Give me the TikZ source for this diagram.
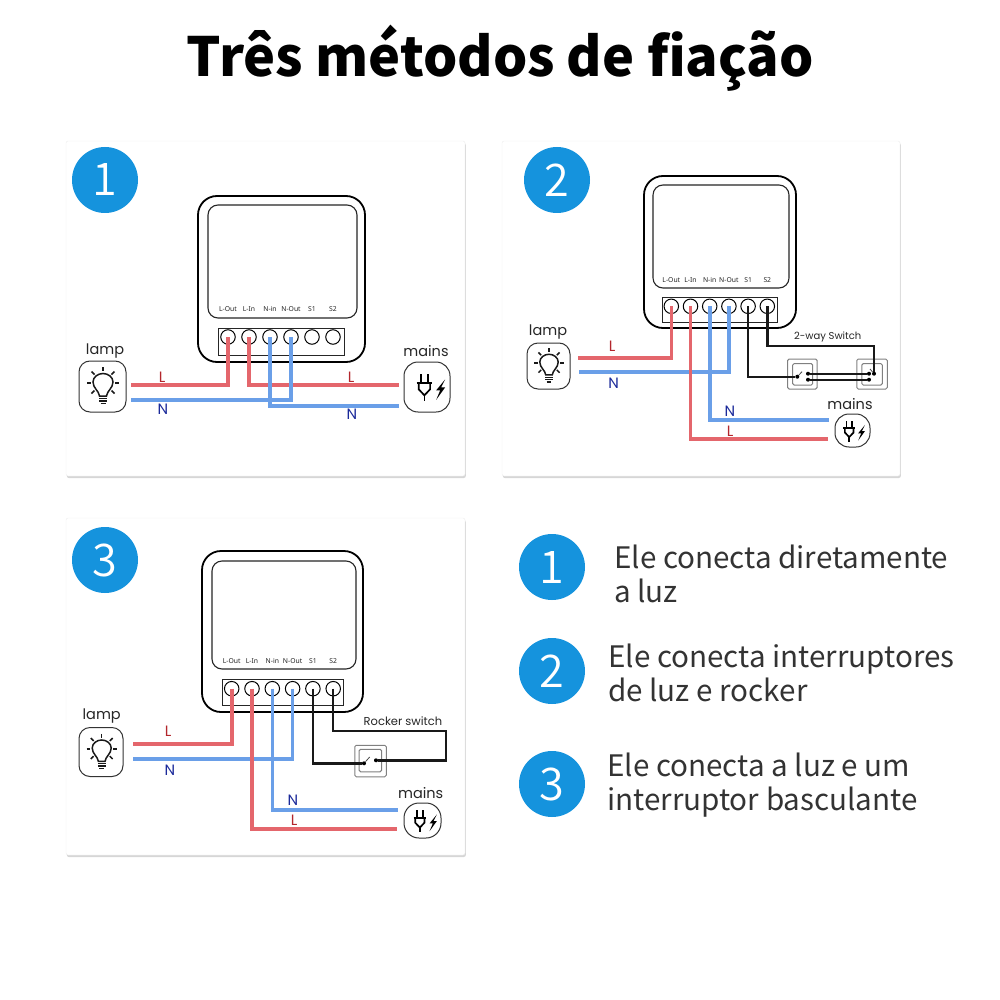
\documentclass[tikz,border=0pt]{standalone}
\usepackage{fontspec}
\setmainfont{Noto Sans CJK SC}
\newfontfamily\iconfont{Poppins}
\newfontfamily\pinfont{Noto Sans}
\newfontfamily\numfont{Noto Sans CJK SC DemiLight}
\usetikzlibrary{shadows}
\definecolor{badgeblue}{HTML}{1593DD}
\definecolor{wirered}{HTML}{E4666C}
\definecolor{wireblue}{HTML}{6A9FE8}
\definecolor{textred}{HTML}{B3262C}
\definecolor{textblue}{HTML}{1B2A9A}
\tikzstyle{card} = [rectangle, rounded corners=2pt, fill=white, draw=black!7, inner sep=0pt, drop shadow={shadow xshift=0.8pt, shadow yshift=-2pt, opacity=0.32}]
\tikzstyle{badge} = [circle, fill=badgeblue, text=white, minimum size=66pt, inner sep=0pt, font=\numfont\fontsize{45}{45}\selectfont]
\tikzstyle{shell} = [rectangle, rounded corners=19pt, draw=black, line width=1.8pt, inner sep=0pt]
\tikzstyle{screen} = [rectangle, rounded corners=10pt, draw=black!85, line width=1.1pt, inner sep=0pt]
\tikzstyle{strip} = [rectangle, draw=black!85, line width=1pt, inner sep=0pt]
\tikzstyle{terminal} = [circle, draw=black, line width=1pt, fill=white, minimum size=14.5pt, inner sep=0pt]
\tikzstyle{pinlabel} = [font=\pinfont\fontsize{6.8}{7}\selectfont, text=black!85, inner sep=0pt]
\tikzstyle{iconlabel} = [font=\iconfont\fontsize{14.5}{15}\selectfont, text=black!85, inner sep=0pt]
\tikzstyle{swlabel} = [font=\iconfont\fontsize{10}{10}\selectfont, text=black!85, inner sep=0pt]
\tikzstyle{iconbox} = [rectangle, rounded corners=11pt, draw=black!80, line width=1pt, inner sep=0pt]
\tikzstyle{lettL} = [font=\iconfont\fontsize{15}{15}\selectfont, text=textred, inner sep=0pt]
\tikzstyle{lettN} = [font=\iconfont\fontsize{15}{15}\selectfont, text=textblue, inner sep=0pt]
\tikzstyle{swouter} = [rectangle, rounded corners=1.5pt, draw=black!50, line width=1pt, fill=white, inner sep=0pt]
\tikzstyle{swinner} = [rectangle, rounded corners=1.5pt, draw=black!50, line width=1pt, inner sep=0pt]
\tikzstyle{contact} = [circle, fill=black, minimum size=4pt, inner sep=0pt]
\tikzstyle{wireL} = [wirered, line width=3.6pt]
\tikzstyle{wireN} = [wireblue, line width=3.6pt]
\tikzstyle{wireS} = [black!90, line width=2.4pt]
\tikzstyle{lever} = [black!70, line width=0.8pt]
\tikzstyle{desc} = [align=left, anchor=west, inner sep=0pt, text=black!80, font=\fontsize{29.6}{34}\selectfont]
% bulb and plug glyphs
\newcommand{\bulbicon}[3]{
\begin{scope}[shift={(#1,#2)},scale=#3,black!90,line width=1.5pt]
\draw (-3.5,13) .. controls (-4,8) and (-10,5) .. (-10,-1) .. controls (-10,-6) and (-5,-9.5) .. (0,-9.5) .. controls (5,-9.5) and (10,-6) .. (10,-1) .. controls (10,5) and (4,8) .. (3.5,13) -- cycle;
\draw (-16,0) -- (-12,0) (12,0) -- (16,0) (0,-16) -- (0,-12);
\draw (-11.5,-11.5) -- (-8.5,-8.5) (11.5,-11.5) -- (8.5,-8.5);
\draw (-11.5,10.5) -- (-8.5,7.5) (11.5,10.5) -- (8.5,7.5);
\draw (-4,15.5) -- (4,15.5) (-4,18) -- (4,18) (-2.5,20.5) -- (2.5,20.5);
\end{scope}}
\newcommand{\plugicon}[3]{
\begin{scope}[shift={(#1,#2)},scale=#3,black,line width=1.7pt]
\draw (-10,-13) -- (-10,-4) (-2.7,-13) -- (-2.7,-4);
\draw (-14,-4) -- (1.3,-4);
\draw (-12,-4) -- (-12,2) -- (-6.3,8) -- (-0.6,2) -- (-0.6,-4);
\draw (-6.3,8) -- (-6.3,14);
\fill (14.5,-8) -- (5.5,3) -- (9.5,3) -- (5.5,12.5) -- (14.5,0) -- (10.5,0) -- cycle;
\end{scope}}
\begin{document}
\begin{tikzpicture}[x=1pt,y=-1pt]
\useasboundingbox (0,0) rectangle (1000,1000);
\node (title) at (500.5,58.5) {\fontsize{54}{54}\selectfont\bfseries Três métodos de fiação};

% cards
\node (card1) [card,minimum width=399pt,minimum height=335pt] at (265.5,308.5) {};
\node (card2) [card,minimum width=398pt,minimum height=335pt] at (701,308.5) {};
\node (card3) [card,minimum width=399pt,minimum height=337pt] at (265.5,686.5) {};
\node (num1) [badge] at (105,180) {1};
\node (num2) [badge] at (557,180) {2};
\node (num3) [badge] at (105,560) {3};

% method 1
\begin{scope}[node distance=21pt]
\node (dev1) [shell,minimum width=167pt,minimum height=166pt] at (281.5,279) {};
\node (scr1) [screen,minimum width=149pt,minimum height=113pt] at (282.5,261.5) {};
\node (blk1) [strip,minimum width=126pt,minimum height=27pt] at (281,341.5) {};
\node (a1) [terminal] at (228,337) {};
\node (a2) [terminal,right of=a1] {};
\node (a3) [terminal,right of=a2] {};
\node (a4) [terminal,right of=a3] {};
\node (a5) [terminal,right of=a4] {};
\node (a6) [terminal,right of=a5] {};
\node (ta1) [pinlabel,above of=a1,yshift=7pt] {L-Out};
\node (ta2) [pinlabel,above of=a2,yshift=7pt] {L-In};
\node (ta3) [pinlabel,above of=a3,yshift=7pt] {N-in};
\node (ta4) [pinlabel,above of=a4,yshift=7pt] {N-Out};
\node (ta5) [pinlabel,above of=a5,yshift=7pt] {S1};
\node (ta6) [pinlabel,above of=a6,yshift=7pt] {S2};
\end{scope}
\node (lamp1) [iconbox,minimum width=47pt,minimum height=51pt] at (102.5,386.5) {};
\node (lt1) [iconlabel] at (105,351) {lamp};
\bulbicon{103}{383}{1}
\node (main1) [iconbox,rounded corners=14pt,minimum width=46pt,minimum height=50pt] at (427,387) {};
\node (mt1) [iconlabel] at (426,351) {mains};
\plugicon{430.7}{387.3}{1}
\coordinate (l1a) at (131,385);
\coordinate (n1a) at (131,400);
\coordinate (l1b) at (399,385);
\coordinate (n1b) at (399,406);
\draw [wireL] (a1.center) |- (l1a);
\draw [wireL] (a2.center) |- (l1b);
\draw [wireN] (a4.center) |- (n1a);
\draw [wireN] (a3.center) |- (n1b);
\node (la1) [lettL] at (162,377) {L};
\node (la2) [lettL] at (351,377) {L};
\node (na1) [lettN] at (163,409) {N};
\node (na2) [lettN] at (352,414) {N};

% method 2
\begin{scope}[node distance=19.2pt]
\node (dev2) [shell,minimum width=152pt,minimum height=152pt] at (720,252) {};
\node (scr2) [screen,minimum width=136pt,minimum height=103pt] at (721,236.5) {};
\node (blk2) [strip,minimum width=115pt,minimum height=25pt] at (719.5,309.5) {};
\node (b1) [terminal] at (671.3,306.3) {};
\node (b2) [terminal,right of=b1] {};
\node (b3) [terminal,right of=b2] {};
\node (b4) [terminal,right of=b3] {};
\node (b5) [terminal,right of=b4] {};
\node (b6) [terminal,right of=b5] {};
\node (tb1) [pinlabel,above of=b1,yshift=7pt] {L-Out};
\node (tb2) [pinlabel,above of=b2,yshift=7pt] {L-In};
\node (tb3) [pinlabel,above of=b3,yshift=7pt] {N-in};
\node (tb4) [pinlabel,above of=b4,yshift=7pt] {N-Out};
\node (tb5) [pinlabel,above of=b5,yshift=7pt] {S1};
\node (tb6) [pinlabel,above of=b6,yshift=7pt] {S2};
\end{scope}
\node (lamp2) [iconbox,minimum width=43pt,minimum height=46pt] at (548.5,366) {};
\node (lt2) [iconlabel] at (548,332) {lamp};
\bulbicon{549}{363}{0.92}
\node (main2) [iconbox,rounded corners=14pt,minimum width=35pt,minimum height=33pt] at (852.5,430.5) {};
\node (mt2) [iconlabel] at (850,404) {mains};
\plugicon{854}{431}{0.76}
\coordinate (l2a) at (578,358);
\coordinate (n2a) at (579,372);
\coordinate (l2b) at (828,439);
\coordinate (n2b) at (829,420);
\draw [wireL] (b1.center) |- (l2a);
\draw [wireN] (b4.center) |- (n2a);
\draw [wireN] (b3.center) |- (n2b);
\draw [wireL] (b2.center) |- (l2b);
\node (lb1) [lettL] at (612,346) {L};
\node (nb1) [lettN] at (613.7,383) {N};
\node (nb2) [lettN] at (730,411) {N};
\node (lb2) [lettL] at (730,431) {L};
\node (sw1) [swouter,minimum width=29.5pt,minimum height=30pt] at (802.3,374) {};
\node (si1) [swinner,minimum width=20pt,minimum height=21.5pt] at (802.7,374.3) {};
\node (sw2) [swouter,minimum width=30.5pt,minimum height=30pt] at (872,374) {};
\node (si2) [swinner,minimum width=20.5pt,minimum height=21.5pt] at (872,374.3) {};
\node (sb0) [contact] at (797.3,376.7) {};
\node (sb1) [contact] at (808,373.7) {};
\node (sb2) [contact] at (808,379.7) {};
\node (sb3) [contact] at (869,373.7) {};
\node (sb4) [contact] at (869,379.7) {};
\node (sb5) [contact] at (874,373.7) {};
\coordinate (bend2) at (874,345.7);
\coordinate (levb1) at (802,371.7);
\coordinate (levb2) at (870,369);
\draw [wireS] (b5.center) |- (sb0);
\draw [wireS] (b6.center) |- (bend2) -- (sb5);
\draw [wireS] (sb1) -- (sb3);
\draw [wireS] (sb2) -- (sb4);
\draw [lever] (sb0) -- (levb1);
\draw [lever] (sb5) -- (levb2);
\node (swt2) [swlabel] at (827.7,337) {2-way Switch};

% method 3
\begin{scope}[node distance=20.3pt]
\node (dev3) [shell,minimum width=161pt,minimum height=161pt] at (282.5,631.5) {};
\node (scr3) [screen,minimum width=144pt,minimum height=108pt] at (284,615) {};
\node (blk3) [strip,minimum width=121pt,minimum height=26pt] at (282.5,692) {};
\node (c1) [terminal] at (231.7,688.7) {};
\node (c2) [terminal,right of=c1] {};
\node (c3) [terminal,right of=c2] {};
\node (c4) [terminal,right of=c3] {};
\node (c5) [terminal,right of=c4] {};
\node (c6) [terminal,right of=c5] {};
\node (tc1) [pinlabel,above of=c1,yshift=7.4pt] {L-Out};
\node (tc2) [pinlabel,above of=c2,yshift=7.4pt] {L-In};
\node (tc3) [pinlabel,above of=c3,yshift=7.4pt] {N-in};
\node (tc4) [pinlabel,above of=c4,yshift=7.4pt] {N-Out};
\node (tc5) [pinlabel,above of=c5,yshift=7.4pt] {S1};
\node (tc6) [pinlabel,above of=c6,yshift=7.4pt] {S2};
\end{scope}
\node (lamp3) [iconbox,minimum width=44pt,minimum height=49pt] at (101,752) {};
\node (lt3) [iconlabel] at (101.7,716) {lamp};
\bulbicon{101.7}{749}{0.95}
\node (main3) [iconbox,rounded corners=15pt,minimum width=37pt,minimum height=35pt] at (422.5,820.5) {};
\node (mt3) [iconlabel] at (420.7,792.7) {mains};
\plugicon{425}{821}{0.82}
\coordinate (l3a) at (133,743.7);
\coordinate (n3a) at (133,759);
\coordinate (l3b) at (397,828.7);
\coordinate (n3b) at (398,809.7);
\draw [wireL] (c1.center) |- (l3a);
\draw [wireN] (c4.center) |- (n3a);
\draw [wireN] (c3.center) |- (n3b);
\draw [wireL] (c2.center) |- (l3b);
\node (lc1) [lettL] at (168,731.7) {L};
\node (nc1) [lettN] at (170,770.7) {N};
\node (nc2) [lettN] at (293,800) {N};
\node (lc2) [lettL] at (294,820.7) {L};
\node (sw3) [swouter,minimum width=31.5pt,minimum height=31.5pt] at (370.5,761) {};
\node (si3) [swinner,minimum width=22.5pt,minimum height=22.5pt] at (370.3,760.5) {};
\node (sc0) [contact] at (364,763.3) {};
\node (sc1) [contact] at (376,760.3) {};
\coordinate (bend3) at (445.7,731);
\coordinate (levc1) at (369.7,757);
\draw [wireS] (c5.center) |- (sc0);
\draw [wireS] (c6.center) |- (bend3) |- (sc1);
\draw [lever] (sc0) -- (levc1);
\node (swt3) [swlabel,font=\iconfont\fontsize{11.5}{12}\selectfont] at (403,721) {Rocker switch};

% list
\node (num4) [badge] at (552,567) {1};
\node (num5) [badge] at (552,671) {2};
\node (num6) [badge] at (552,784) {3};
\node (txt1) [desc] at (614,574) {Ele conecta diretamente\\a luz};
\node (txt2) [desc] at (608,673) {Ele conecta interruptores\\de luz e rocker};
\node (txt3) [desc] at (607,785) {Ele conecta a luz e um\\interruptor basculante};
\end{tikzpicture}
\end{document}
